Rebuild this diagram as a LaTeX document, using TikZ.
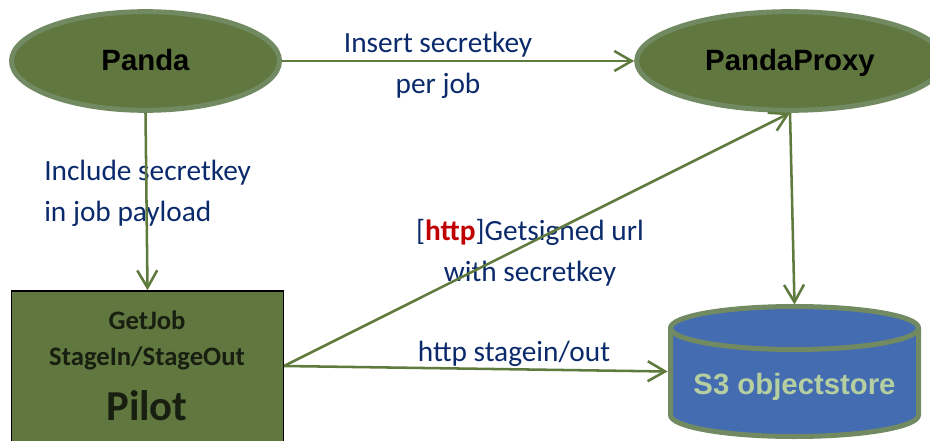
\documentclass[tikz,border=0pt]{standalone}
\usepackage{fontspec}
\usepackage{xcolor}
\usetikzlibrary{arrows.meta,shapes.geometric}
\setmainfont{Carlito}
\newfontfamily\arialfont{Liberation Sans}
\definecolor{olivefill}{HTML}{60773F}
\definecolor{oliveedge}{HTML}{728A62}
\definecolor{oliveline}{HTML}{5F7A3D}
\definecolor{labelblue}{HTML}{0B2A6B}
\definecolor{storeblue}{HTML}{446CB0}
\definecolor{storetext}{HTML}{B5CFA1}
\definecolor{httpred}{HTML}{C00000}
\tikzset{
    service-node/.style = {ellipse, draw=oliveedge, fill=olivefill, line width=3.75pt, minimum height=74pt, inner sep=0pt, text height=18pt, text depth=3.5pt, font=\arialfont\fontsize{22}{26}\selectfont\bfseries, text=black},
    pilot-box/.style = {rectangle, draw=black, fill=olivefill, line width=1.2pt, minimum width=204pt, minimum height=114pt, inner sep=0pt},
    store-box/.style = {rectangle, minimum width=190pt, minimum height=100pt, inner sep=0pt},
    store-wall/.style = {draw=oliveedge, fill=storeblue, line width=3.75pt},
    store-label/.style = {inner sep=0pt, font=\arialfont\fontsize{22}{26}\selectfont\bfseries, text=storetext},
    flow-label/.style = {text=labelblue, align=center, inner sep=0pt, font=\fontsize{22}{31}\selectfont},
    pilot-label/.style = {text=black!75!olivefill, align=center, inner sep=0pt, font=\fontsize{20}{27}\selectfont\bfseries},
    flow/.style = {draw=oliveline, line width=1.9pt, -{Straight Barb[length=13pt,width=15pt,line width=1.9pt]}},
}
\begin{document}
\begin{tikzpicture}[x=0.75pt,y=-0.75pt]
\clip (0,0) rectangle (930,441);
% labels go under the arrows
\node[flow-label] (insertlabel) at (438,65.5) {Insert secretkey\\per job};
\node[flow-label, align=left, anchor=west] (includelabel) at (44,193.5) {Include secretkey\\in job payload};
\node[flow-label] (signedlabel) at (530,252.5) {[\textcolor{httpred}{\textbf{http}}]Getsigned url\\with secretkey};
\node[flow-label] (stagelabel) at (514,354) {http stagein/out};
% main boxes
\node[service-node, minimum width=201pt] (panda) at (145.5,61) {Panda};
\node[service-node, minimum width=230pt] (proxy) at (790,61) {PandaProxy};
\node[pilot-box] (pilot) at (147.5,367) {};
\node[pilot-label] (pilotsteps) at (147,340) {GetJob\\StageIn/StageOut};
\node[pilot-label, font=\fontsize{32}{36}\selectfont\bfseries] (pilotname) at (147,406) {Pilot};
% objectstore barrel
\node[store-box] (store) at (794.5,371.5) {};
\draw[store-wall] (670.5,328) -- (670.5,415) arc[start angle=180, end angle=0, x radius=124, y radius=21.5] -- (918.5,328);
\draw[store-wall] (794.5,328) ellipse[x radius=124, y radius=21.5];
\node[store-label] (storename) at (794.5,387) {S3 objectstore};
\coordinate (pilotout) at (284,366);
% arrows
\draw[flow] (panda.east) -- (proxy.west);
\draw[flow] (panda.south) -- (pilot.north);
\draw[flow] (proxy.south) -- (store.north);
\draw[flow] (pilotout) -- (proxy.south);
\draw[flow] (pilotout) -- (store.west);
\end{tikzpicture}
\end{document}
